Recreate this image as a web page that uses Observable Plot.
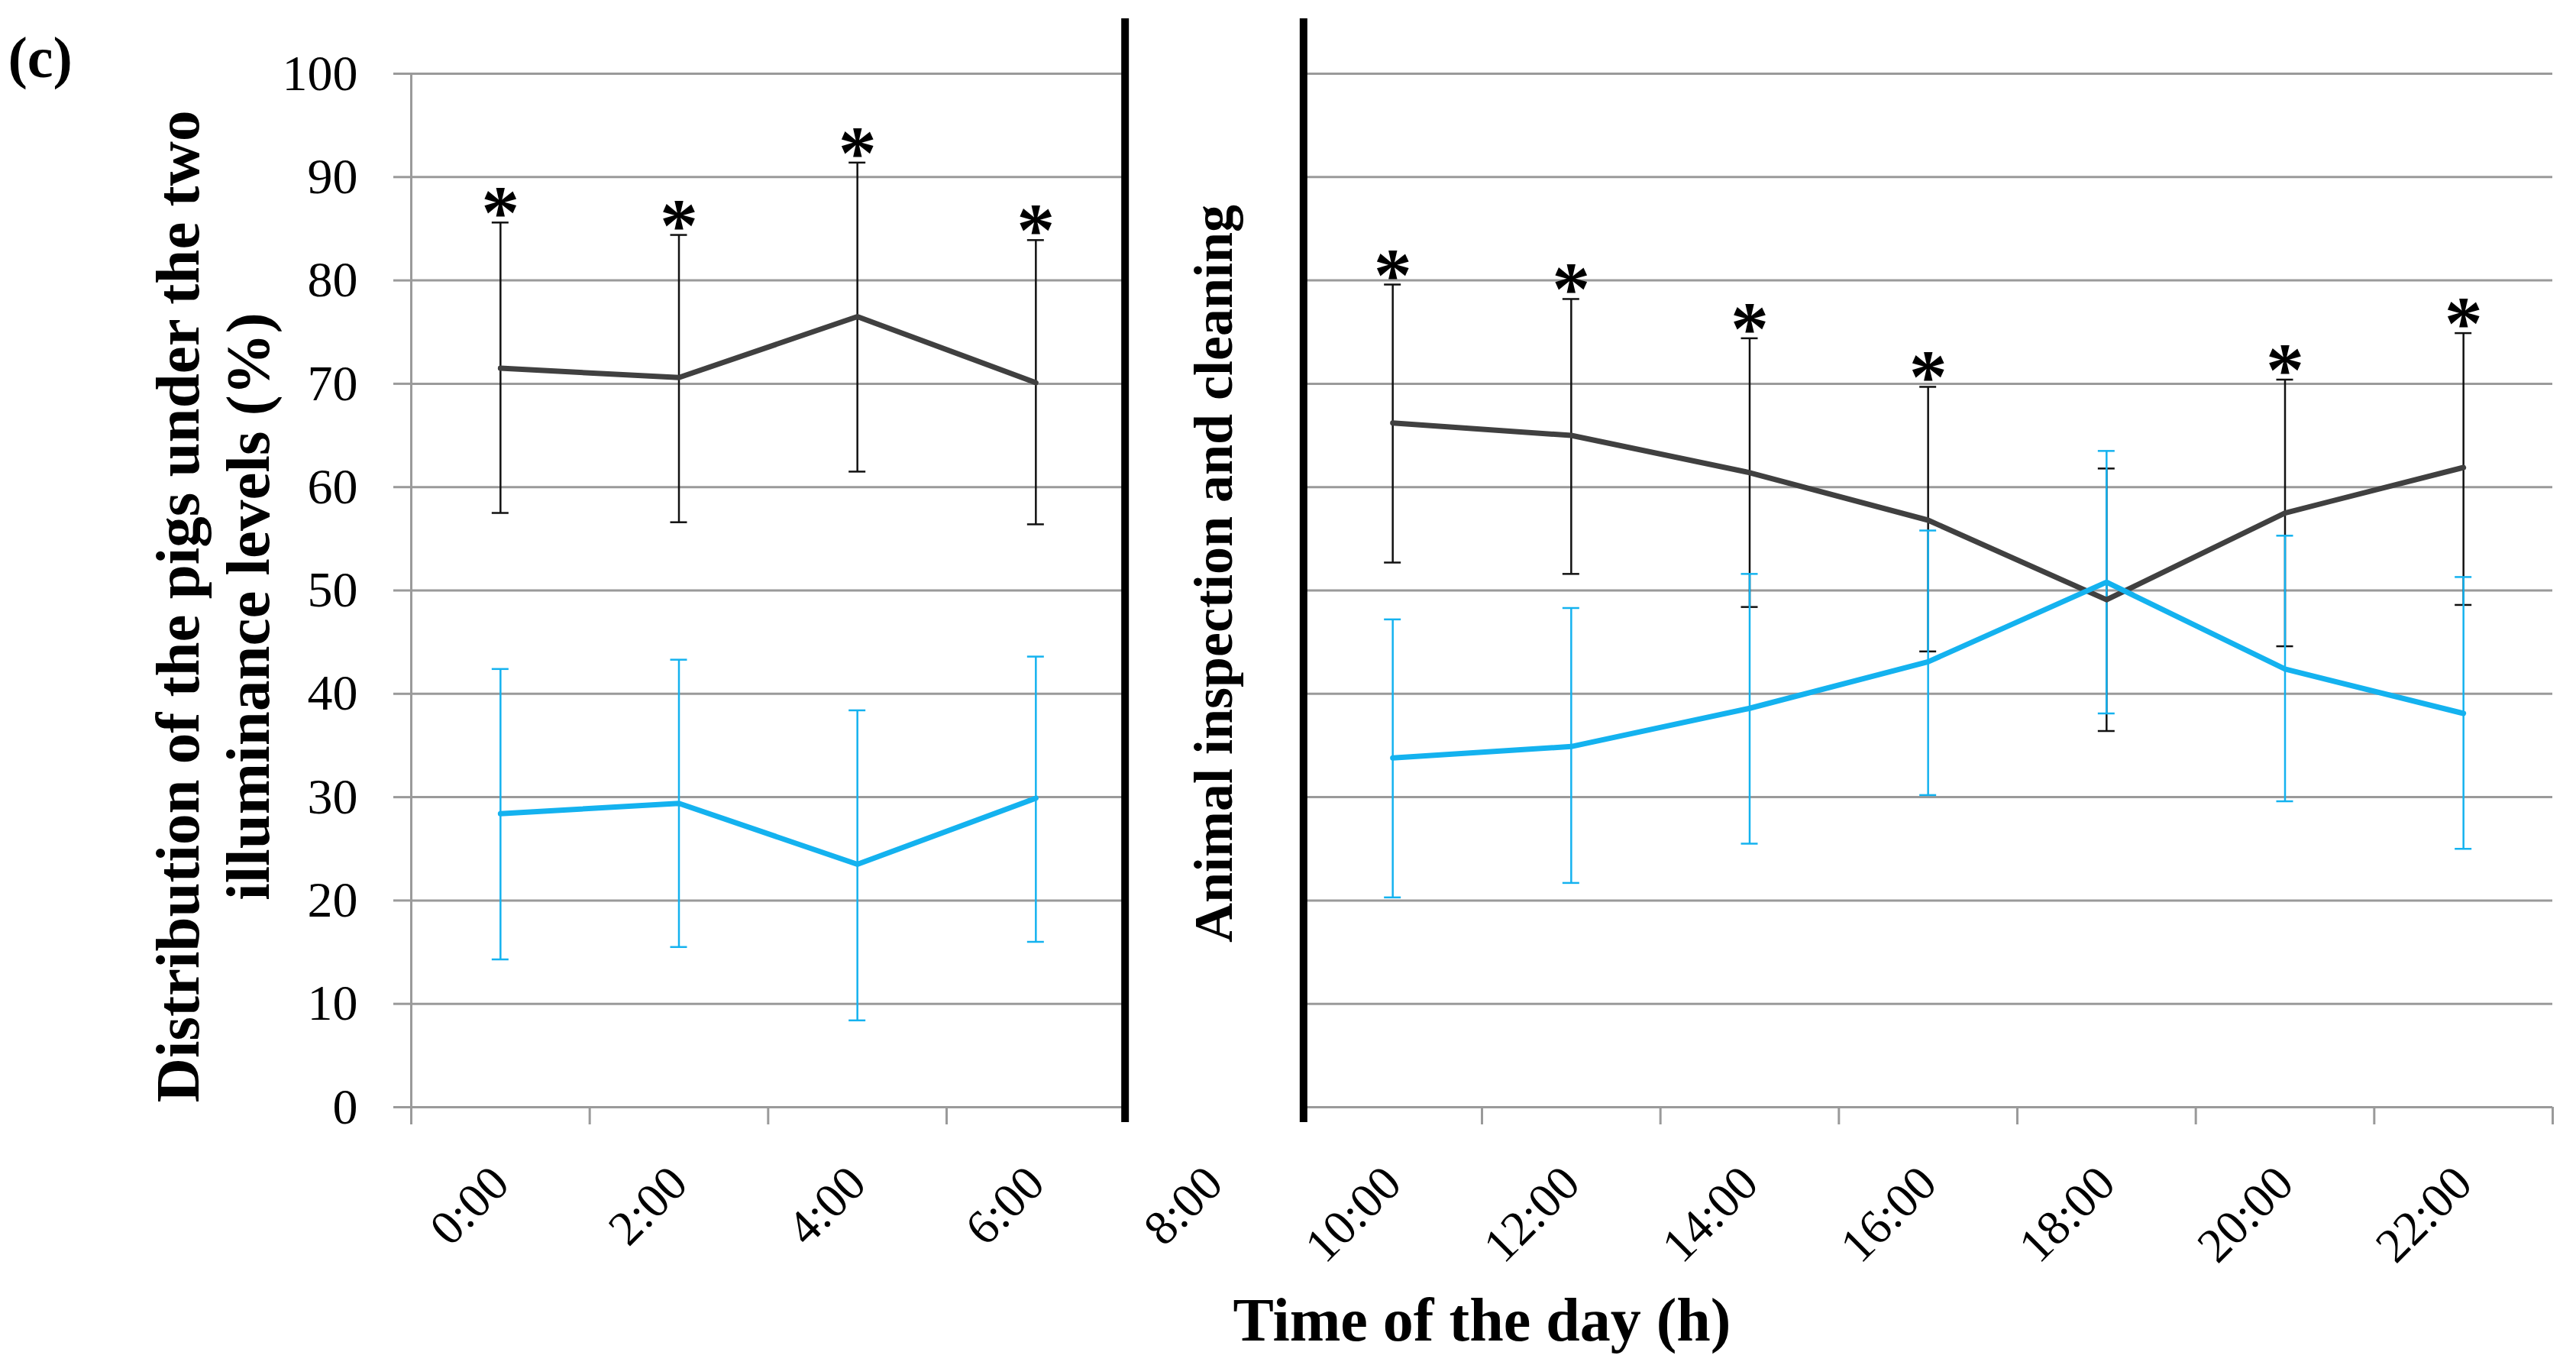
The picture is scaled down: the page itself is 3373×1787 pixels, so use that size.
<!DOCTYPE html>
<html>
<head>
<meta charset="utf-8">
<script src="https://cdn.jsdelivr.net/npm/d3@7"></script>
<script src="https://cdn.jsdelivr.net/npm/@observablehq/plot@0.6"></script>
<style>
  html, body { margin: 0; padding: 0; background: white; }
</style>
</head>
<body>
<div id="chart"></div>
<script>
// ---- data ----
const timeLabels = ["0:00","2:00","4:00","6:00","8:00","10:00","12:00","14:00","16:00","18:00","20:00","22:00"];
const tickHours  = [0,2,4,6,8,10,12,14,16,18,20,22];
const yTicks     = [0,10,20,30,40,50,60,70,80,90,100];

const measuredHours = [0,2,4,6,10,12,14,16,18,20,22];
const period        = ["night","night","night","night","day","day","day","day","day","day","day"];

const darkMean  = [71.5,70.6,76.5,70.1,66.2,65.0,61.4,56.8,49.1,57.5,61.9];
const darkUpper = [85.6,84.4,91.4,83.9,79.6,78.2,74.4,69.7,61.8,70.4,74.9];
const darkLower = [57.5,56.6,61.5,56.4,52.7,51.6,48.4,44.1,36.4,44.6,48.6];

const blueMean  = [28.4,29.4,23.5,29.9,33.8,34.9,38.6,43.1,50.8,42.4,38.1];
const blueUpper = [42.4,43.3,38.4,43.6,47.2,48.3,51.6,55.8,63.5,55.3,51.3];
const blueLower = [14.3,15.5,8.4,16.0,20.3,21.7,25.5,30.2,38.1,29.6,25.0];

const significant = [true,true,true,true,true,true,true,true,false,true,true];

// band boundaries (hours) for the x-axis tick marks
const boundaryTicks = [-1,1,3,5,11,13,15,17,19,21,23];
// edges of the 8:00 break slot
const breakEdges = [7, 9];
const panels = [{x1: -1, x2: 7}, {x1: 9, x2: 23}];

const dark = measuredHours.map((h, i) => ({h, p: period[i], mean: darkMean[i], lo: darkLower[i], hi: darkUpper[i], sig: significant[i]}));
const blue = measuredHours.map((h, i) => ({h, p: period[i], mean: blueMean[i], lo: blueLower[i], hi: blueUpper[i]}));
const grid = panels.flatMap(pn => yTicks.map(y => ({y, x1: pn.x1, x2: pn.x2, left: pn.x1 === -1})));

const serif = "Liberation Serif";
const darkColor = "#404040";
const blueColor = "#14b2ef";
const gridColor = "#9a9a9a";

const chart = Plot.plot({
  width: 3373,
  height: 1787,
  marginLeft: 538,
  marginRight: 31,
  marginTop: 96,
  marginBottom: 338,
  style: {background: "white", color: "black", fontFamily: serif},
  x: {domain: [-1, 23]},
  y: {domain: [0, 100]},
  marks: [
    // gridlines
    Plot.ruleY(grid, {y: "y", x1: "x1", x2: "x2", stroke: gridColor, strokeWidth: 3}),
    // small ticks to the left of the y axis
    Plot.ruleY(grid.filter(d => d.left), {y: "y", x1: "x1", x2: "x1", insetLeft: -23, stroke: gridColor, strokeWidth: 3}),
    // left axis line
    Plot.ruleX([-1], {x: d => d, y1: 100, y2: 0, insetBottom: -23, stroke: gridColor, strokeWidth: 3}),
    // bottom tick marks
    Plot.ruleX(boundaryTicks, {x: d => d, y1: 0, y2: 0, insetBottom: -23, stroke: gridColor, strokeWidth: 3}),
    // thick black separators
    Plot.ruleX(breakEdges, {x: d => d, y1: 100, y2: 0, insetTop: -72, insetBottom: -20, stroke: "black", strokeWidth: 10}),
    // axes
    Plot.axisY({ticks: yTicks, tickSize: 0, tickPadding: 70, fontSize: 66, fontFamily: serif, label: null}),
    Plot.axisX({ticks: tickHours, tickFormat: d => timeLabels[tickHours.indexOf(d)], tickRotate: -45, tickSize: 0, tickPadding: 89, fontSize: 64, fontFamily: serif, label: null}),
    // dark error bars
    Plot.ruleX(dark, {x: "h", y1: "hi", y2: "lo", stroke: "#111", strokeWidth: 2.5}),
    Plot.ruleY(dark, {x1: "h", x2: "h", y: "hi", insetLeft: -11, insetRight: -11, stroke: "#111", strokeWidth: 2.5}),
    Plot.ruleY(dark, {x1: "h", x2: "h", y: "lo", insetLeft: -11, insetRight: -11, stroke: "#111", strokeWidth: 2.5}),
    // blue error bars
    Plot.ruleX(blue, {x: "h", y1: "hi", y2: "lo", stroke: blueColor, strokeWidth: 2.5}),
    Plot.ruleY(blue, {x1: "h", x2: "h", y: "hi", insetLeft: -11, insetRight: -11, stroke: blueColor, strokeWidth: 2.5}),
    Plot.ruleY(blue, {x1: "h", x2: "h", y: "lo", insetLeft: -11, insetRight: -11, stroke: blueColor, strokeWidth: 2.5}),
    // lines
    Plot.line(dark, {x: "h", y: "mean", z: "p", stroke: darkColor, strokeWidth: 7}),
    Plot.line(blue, {x: "h", y: "mean", z: "p", stroke: blueColor, strokeWidth: 7}),
    // significance asterisks
    Plot.text(dark.filter(d => d.sig), {x: "h", y: "hi", text: () => "*", fontSize: 100, fontWeight: "bold", fill: "black", dy: -12, fontFamily: serif}),
    // annotation in the break slot
    Plot.text(["Animal inspection and cleaning"], {x: () => 8, text: d => d, frameAnchor: "middle", textAnchor: "middle", rotate: -90, fontSize: 72, fontWeight: "bold", fill: "black", dy: -22, fontFamily: serif}),
    // y axis title
    Plot.text(["Distribution of the pigs under the two\nilluminance levels (%)"], {text: d => d, frameAnchor: "left", textAnchor: "middle", lineAnchor: "middle", rotate: -90, dx: -262, dy: 21, fontSize: 81, fontWeight: "bold", lineHeight: 1.14, fill: "black", fontFamily: serif}),
    // x axis title
    Plot.text(["Time of the day (h)"], {text: d => d, frameAnchor: "bottom", textAnchor: "middle", lineAnchor: "middle", dy: 280, fontSize: 80, fontWeight: "bold", fill: "black", fontFamily: serif}),
    // panel label
    Plot.text(["(c)"], {text: d => d, frameAnchor: "top-left", textAnchor: "start", lineAnchor: "top", dx: -528, dy: -49, fontSize: 76, fontWeight: "bold", fill: "black", fontFamily: serif})
  ]
});
document.getElementById("chart").appendChild(chart);
</script>
</body>
</html>
